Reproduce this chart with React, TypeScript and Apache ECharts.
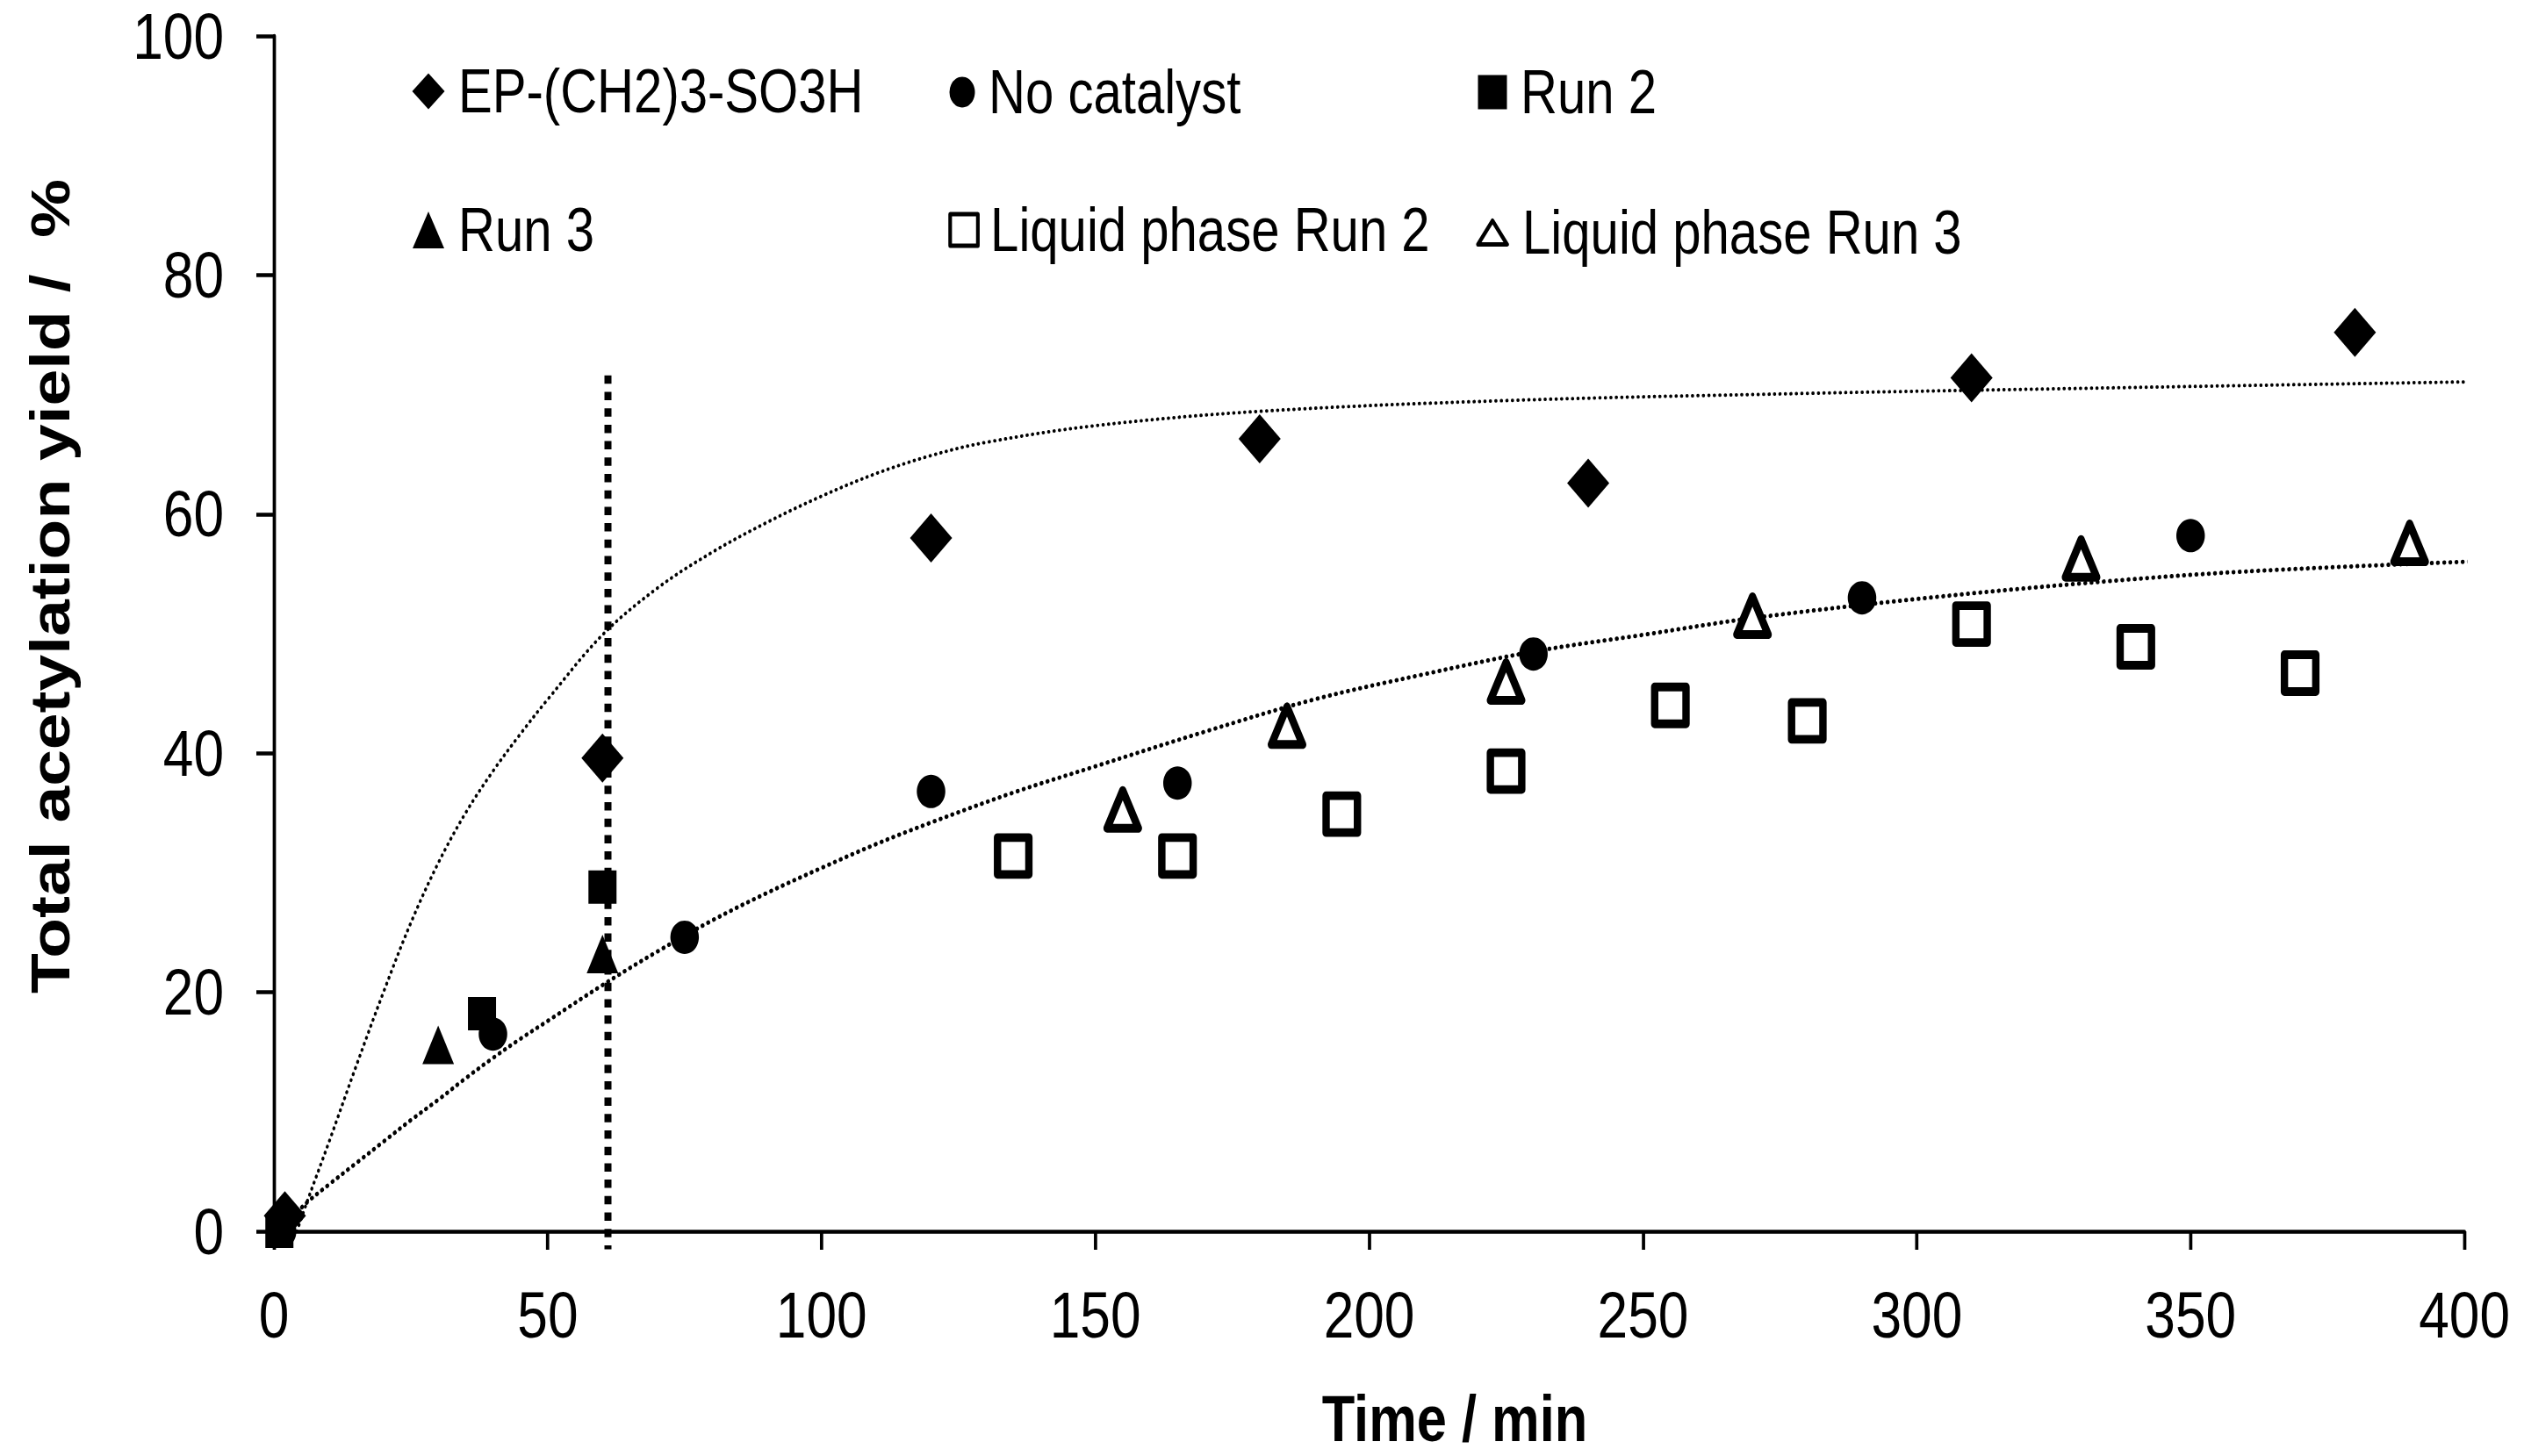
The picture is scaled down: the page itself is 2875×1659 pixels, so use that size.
import React, { useEffect, useRef } from 'react';
import * as echarts from 'echarts';

// ---- data ----
const epTime = [2, 60, 120, 180, 240, 310, 380];
const epYield = [1.3, 39.6, 58.0, 66.3, 62.6, 71.4, 75.2];

const noCatTime = [1.5, 40, 75, 120, 165, 230, 290, 350];
const noCatYield = [0, 16.5, 24.6, 36.8, 37.5, 48.3, 53.0, 58.2];

const run2Time = [1, 38, 60];
const run2Yield = [0, 18.2, 28.8];

const run3Time = [30, 60];
const run3Yield = [15.6, 23.2];

const liq2Time = [135, 165, 195, 225, 255, 280, 310, 340, 370];
const liq2Yield = [31.4, 31.4, 34.9, 38.5, 44.0, 42.7, 50.8, 48.9, 46.7];

const liq3Time = [155, 185, 225, 270, 330, 390];
const liq3Yield = [35.3, 42.3, 46.0, 51.5, 56.3, 57.6];

// dotted trend curves
const fitUpperTime = [4.2, 6, 10, 15, 20, 25, 30, 35, 40, 45, 50, 60, 70, 80, 90, 100, 110, 120, 130, 150, 180, 225, 280, 340, 405];
const fitUpperYield = [0, 2.4, 7.4, 13.8, 20.0, 25.8, 30.8, 35.0, 38.5, 41.6, 44.5, 49.9, 53.8, 56.8, 59.3, 61.5, 63.4, 64.9, 66.0, 67.4, 68.6, 69.5, 70.1, 70.6, 71.1];

const fitLowerTime = [2.5, 6, 10, 15, 20, 25, 30, 35, 40, 45, 50, 60, 70, 80, 90, 100, 110, 120, 135, 150, 170, 190, 210, 230, 250, 270, 300, 330, 360, 405];
const fitLowerYield = [0.8, 2.4, 3.9, 5.7, 7.5, 9.3, 11.0, 12.8, 14.5, 16.1, 17.6, 20.6, 23.4, 26.0, 28.3, 30.4, 32.4, 34.2, 36.7, 38.9, 41.8, 44.5, 46.6, 48.5, 49.9, 51.3, 52.9, 54.2, 55.2, 56.1];

// vertical dashed marker at t = 61 min
const markerTime = [61, 61];
const markerYield = [71.6, -1.5];

const xTicks = { min: 0, max: 400, interval: 50 };
const yTicks = { min: 0, max: 100, interval: 20 };

const seriesNames = [
  'EP-(CH2)3-SO3H',
  'No catalyst',
  'Run 2',
  'Run 3',
  'Liquid phase Run 2',
  'Liquid phase Run 3',
];

const zip = (xs: number[], ys: number[]) => xs.map((x, i) => [x, ys[i]]);

// The reference is horizontally condensed; the chart is laid out at W/K and squeezed by K.
const K = 0.83;
const W = 2875;
const H = 1659;
const u = (px: number) => px / K; // horizontal page pixels -> layout pixels

const FONT = "'Liberation Sans', Arial, sans-serif";

function legendItem(
  name: string,
  icon: string,
  cx: number,
  cy: number,
  w: number,
  h: number,
  textStart: number,
  itemStyle?: any
) {
  const d: any = { name, icon };
  if (itemStyle) d.itemStyle = itemStyle;
  const left = u(cx) - w / 2;
  const pad = u(textStart) - (left + w + 5);
  return {
    data: [d],
    left,
    top: cy - 35,
    orient: 'horizontal',
    itemWidth: w,
    itemHeight: h,
    symbolKeepAspect: false,
    padding: 0,
    selectedMode: false,
    textStyle: {
      fontFamily: FONT,
      fontSize: 70,
      color: '#000',
      lineHeight: 70,
      padding: [0, 0, 0, pad],
    },
  };
}

export default function App() {
  const ref = useRef<HTMLDivElement>(null);

  useEffect(() => {
    if (!ref.current) return;
    const chart = echarts.init(ref.current, null, { renderer: 'svg' });

    const black = '#000';
    const filled = { color: black, opacity: 1 };
    const hollow = { color: '#fff', borderColor: black, borderWidth: 10, borderJoin: 'round', opacity: 1 };

    const scatterBase = {
      type: 'scatter',
      clip: false,
      silent: true,
      z: 5,
      emphasis: { disabled: true },
    };

    const fitBase = {
      type: 'line',
      showSymbol: false,
      symbol: 'none',
      smooth: 0.35,
      clip: false,
      silent: true,
      z: 2,
    };

    const option: any = {
      animation: false,
      backgroundColor: '#fff',
      grid: {
        left: u(312),
        top: 41,
        right: u(W - 2807),
        bottom: H - 1403,
        containLabel: false,
        outerBoundsMode: 'none',
      },
      xAxis: {
        type: 'value',
        min: xTicks.min,
        max: xTicks.max,
        interval: xTicks.interval,
        splitLine: { show: false },
        axisLine: { show: true, onZero: false, lineStyle: { color: black, width: 4.5 } },
        axisTick: { show: true, inside: false, length: 21, lineStyle: { color: black, width: 4.5 } },
        axisLabel: {
          color: black,
          fontFamily: FONT,
          fontSize: 75,
          margin: 58,
        },
      },
      yAxis: {
        type: 'value',
        min: yTicks.min,
        max: yTicks.max,
        interval: yTicks.interval,
        splitLine: { show: false },
        axisLine: { show: true, onZero: false, lineStyle: { color: black, width: 4.5 } },
        axisTick: { show: true, inside: false, length: u(20), lineStyle: { color: black, width: 4.5 } },
        axisLabel: {
          color: black,
          fontFamily: FONT,
          fontSize: 75,
          margin: u(57),
        },
      },
      legend: [
        legendItem(seriesNames[0], 'diamond', 488, 104, u(37), 41, 522),
        legendItem(seriesNames[1], 'circle', 1096, 105, u(29), 37, 1126),
        legendItem(seriesNames[2], 'rect', 1700, 105, u(33), 39, 1732),
        legendItem(seriesNames[3], 'triangle', 488, 262, u(36), 42, 522),
        legendItem(seriesNames[4], 'rect', 1096, 262, 38, 36, 1126, { borderWidth: 5 }),
        legendItem(seriesNames[5], 'triangle', 1698, 265, 40, 27, 1732, { borderWidth: 5 }),
      ],
      graphic: [
        {
          type: 'text',
          x: u(58),
          y: 668,
          rotation: Math.PI / 2,
          style: {
            text: 'Total acetylation yield /  %',
            fontFamily: FONT,
            fontWeight: 'bold',
            fontSize: 75,
            fill: black,
            align: 'center',
            verticalAlign: 'middle',
          },
        },
        {
          type: 'text',
          x: u(1657),
          y: 1616,
          style: {
            text: 'Time / min',
            fontFamily: FONT,
            fontWeight: 'bold',
            fontSize: 74,
            fill: black,
            align: 'center',
            verticalAlign: 'middle',
          },
        },
      ],
      series: [
        {
          ...fitBase,
          name: 'fit-upper',
          data: zip(fitUpperTime, fitUpperYield),
          lineStyle: { color: black, width: 4, type: [0.5, 7], cap: 'round' },
        },
        {
          ...fitBase,
          name: 'fit-lower',
          data: zip(fitLowerTime, fitLowerYield),
          lineStyle: { color: black, width: 5, type: [0.5, 8], cap: 'round' },
        },
        {
          name: 'marker',
          type: 'line',
          data: zip(markerTime, markerYield),
          showSymbol: false,
          symbol: 'none',
          clip: false,
          silent: true,
          z: 3,
          lineStyle: { color: black, width: u(8), type: [9.5, 9.2], cap: 'butt' },
        },
        {
          ...scatterBase,
          name: seriesNames[1],
          data: zip(noCatTime, noCatYield),
          symbol: 'circle',
          symbolSize: [u(32.5), 38],
          itemStyle: filled,
        },
        {
          ...scatterBase,
          name: seriesNames[2],
          data: zip(run2Time, run2Yield),
          symbol: 'rect',
          symbolSize: [u(32), 38],
          itemStyle: filled,
        },
        {
          ...scatterBase,
          name: seriesNames[3],
          data: zip(run3Time, run3Yield),
          symbol: 'triangle',
          symbolSize: [u(36), 44],
          itemStyle: filled,
        },
        {
          ...scatterBase,
          name: seriesNames[4],
          data: zip(liq2Time, liq2Yield),
          symbol: 'rect',
          symbolSize: [u(44) - 10, 42],
          itemStyle: hollow,
        },
        {
          ...scatterBase,
          name: seriesNames[5],
          data: zip(liq3Time, liq3Yield),
          symbol: 'triangle',
          symbolSize: [u(44) - 10, 43],
          itemStyle: hollow,
        },
        {
          ...scatterBase,
          name: seriesNames[0],
          data: zip(epTime, epYield),
          symbol: 'diamond',
          symbolSize: [u(48), 56],
          itemStyle: filled,
          z: 6,
        },
      ],
    };

    chart.setOption(option);
    return () => {
      chart.dispose();
    };
  }, []);

  return (
    <div
      ref={ref}
      style={{
        position: 'fixed',
        left: 0,
        top: 0,
        width: Math.round(W / K),
        height: H,
        background: '#fff',
        transform: `scaleX(${K})`,
        transformOrigin: '0 0',
      }}
    />
  );
}
